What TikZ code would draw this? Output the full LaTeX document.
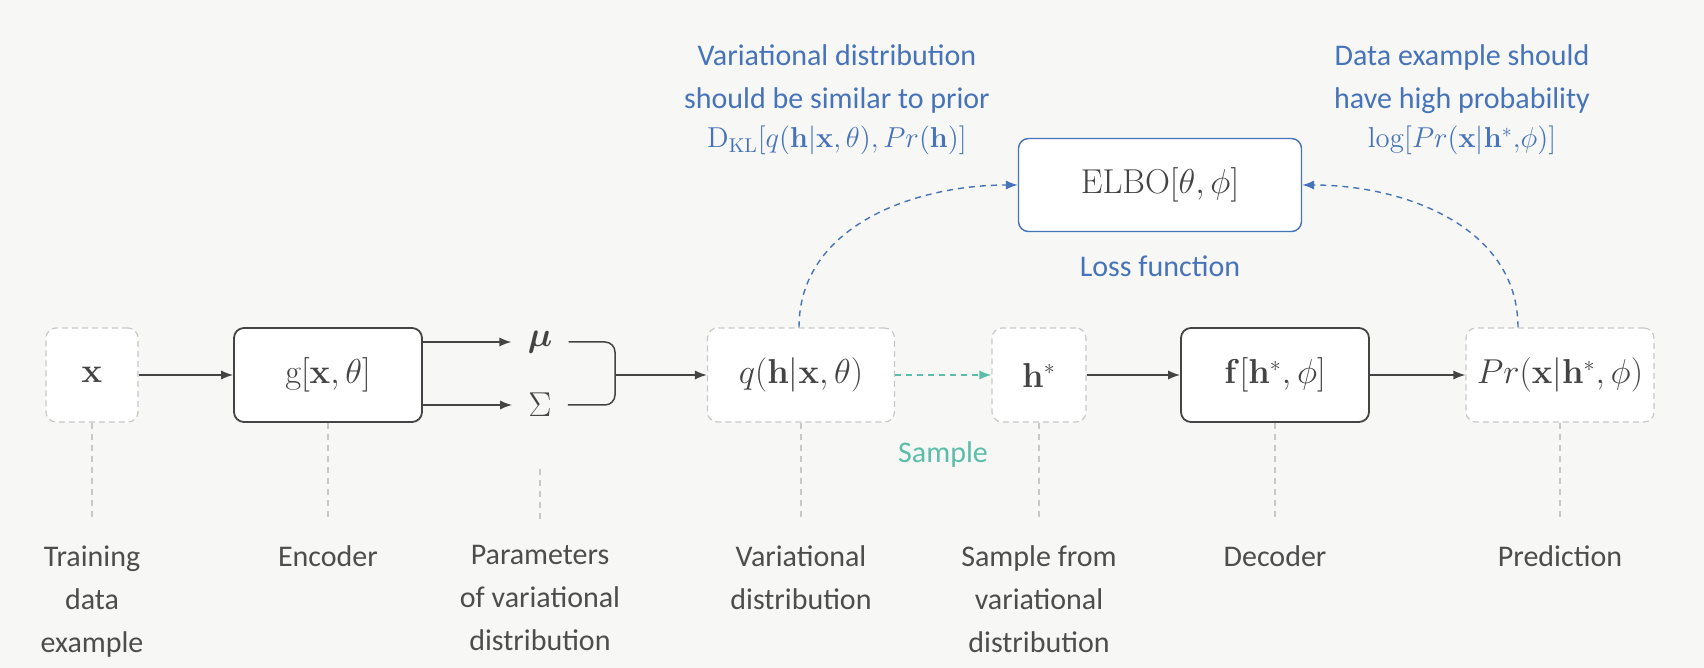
\documentclass[tikz,border=0pt]{standalone}
\usepackage[no-math]{fontspec}
\setmainfont{Carlito}
\usepackage{amsmath,bm}
\usetikzlibrary{arrows.meta}
\definecolor{bgcol}{RGB}{247,247,245}
\definecolor{ink}{RGB}{68,68,68}
\definecolor{faint}{RGB}{200,200,200}
\definecolor{klblue}{RGB}{70,115,185}
\definecolor{sampcol}{RGB}{90,190,168}

\begin{document}
\begin{tikzpicture}[x=.5pt,y=-.5pt,>={Latex[length=6pt,width=4.6pt]},
	box/.style={draw=ink,line width=.9pt,fill=white,rounded corners=5pt,minimum height=47pt,text=ink,font=\fontsize{16}{19}\selectfont},
	ghost/.style={box,draw=faint,line width=.6pt,dash pattern=on 3pt off 2pt},
	lbl/.style={align=center,anchor=north,inner sep=0pt,text=ink!95,font=\fontsize{15}{21.5}\selectfont},
	guide/.style={draw=faint,line width=.6pt,dash pattern=on 3pt off 2.5pt,shorten >=13pt},
	note/.style={align=center,text=klblue,font=\fontsize{15}{21.5}\selectfont},
	flow/.style={->,draw=ink,line width=.75pt}]
	\fill[bgcol] (0,0) rectangle (1704,668);
	
	% main row
	\node[ghost,minimum width=46pt] (xbox) at (92,375) {$\mathbf{x}$};
	\node[box,minimum width=94pt] (gbox) at (328,375) {$\mathrm{g}[\mathbf{x},\theta]$};
	\node[inner xsep=8pt,text=ink,font=\fontsize{16}{19}\selectfont] (mu) at (540,342) {$\boldsymbol{\mu}$};
	\node[inner xsep=8pt,text=ink,font=\fontsize{16}{19}\selectfont] (sig) at (540,405) {$\Sigma$};
	\coordinate (brk) at (615,375);
	\node[ghost,minimum width=93.5pt] (qbox) at (801,375) {$q(\mathbf{h}|\mathbf{x},\theta)$};
	\node[ghost,minimum width=47pt] (hbox) at (1039,375) {$\mathbf{h}^{*}$};
	\node[box,minimum width=94pt] (fbox) at (1275,375) {$\mathbf{f}[\mathbf{h}^{*},\phi]$};
	\node[ghost,minimum width=94pt] (prbox) at (1560,375) {$Pr(\mathbf{x}|\mathbf{h}^{*},\phi)$};
	
	\draw[flow] (xbox) -- (gbox);
	\draw[flow] (gbox.east |- mu) -- (mu);
	\draw[flow] (gbox.east |- sig) -- (sig);
	\draw[draw=ink,line width=.75pt,rounded corners=5pt] (mu.east) -| (brk) |- (sig.east);
	\draw[flow] (brk) -- (qbox);
	\draw[->,draw=sampcol,line width=.75pt,dash pattern=on 3pt off 2.5pt] (qbox) -- (hbox);
	\node[text=sampcol,font=\fontsize{15}{19}\selectfont] (samp) at (943,455) {Sample};
	\draw[flow] (hbox) -- (fbox);
	\draw[flow] (fbox) -- (prbox);
	
	% loss
	\node[box,draw=klblue,line width=.7pt,minimum width=141.5pt,minimum height=46.5pt] (elbo) at (1160,185) {$\mathrm{ELBO}[\theta,\phi]$};
	\node[text=klblue,font=\fontsize{15}{19}\selectfont] (loss) at (1160,266) {Loss function};
	\node[note] (klnote) at (837,100) {Variational distribution\\should be similar to prior\\[-2pt]{\fontsize{14}{21.5}\selectfont$\mathrm{D}_{\mathrm{KL}}[q(\mathbf{h}|\mathbf{x},\theta),Pr(\mathbf{h})]$}};
	\node[note] (lknote) at (1462,100) {Data example should\\have high probability\\[-2pt]{\fontsize{14}{21.5}\selectfont$\log[Pr(\mathbf{x}|\mathbf{h}^{*}{,}\phi)]$}};
	
	\coordinate (qtop) at ([xshift=-1pt]qbox.north);
	\coordinate (prtop) at ([xshift=-21pt]prbox.north);
	\begin{scope}[->,klblue,line width=.7pt,dash pattern=on 3pt off 2.5pt]
		\draw (qtop) to[out=90,in=180] (elbo.west);
		\draw (prtop) to[out=90,in=0] (elbo.east);
	\end{scope}
	
	% captions
	\node[lbl] (lx) at (xbox |- 0,545) {Training\\data\\example};
	\node[lbl] (lg) at (gbox |- 0,545) {Encoder};
	\node[lbl] (lpar) at (540,545) {Parameters\\of variational\\distribution};
	\node[lbl] (lq) at (qbox |- 0,545) {Variational\\distribution};
	\node[lbl] (lh) at (hbox |- 0,545) {Sample from\\variational\\distribution};
	\node[lbl] (lf) at (fbox |- 0,545) {Decoder};
	\node[lbl] (lpr) at (prbox |- 0,545) {Prediction};
	
	\coordinate (pm) at (540,469);
	\draw[guide] (xbox) -- (lx);
	\draw[guide] (gbox) -- (lg);
	\draw[guide] (pm) -- (lpar);
	\draw[guide] (qbox) -- (lq);
	\draw[guide] (hbox) -- (lh);
	\draw[guide] (fbox) -- (lf);
	\draw[guide] (prbox) -- (lpr);
\end{tikzpicture}
\end{document}
